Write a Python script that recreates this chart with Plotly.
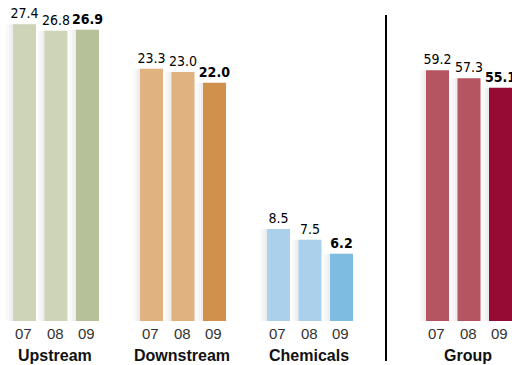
import plotly.graph_objects as go

segments = ["Upstream", "Downstream", "Chemicals", "Group"]
years = ["07", "08", "09"]
upstream = [27.4, 26.8, 26.9]
downstream = [23.3, 23.0, 22.0]
chemicals = [8.5, 7.5, 6.2]
group = [59.2, 57.3, 55.1]

values = [upstream, downstream, chemicals, group]
light = ["#CDD4B8", "#E0B27F", "#AAD0EC", "#B55561"]
dark = ["#B7C199", "#D0914D", "#7EBCE2", "#960B33"]

W, H = 512, 365
base_px = 321          # pixel row of bar bottoms
seg_scale = 10.83      # px per unit, segment axis
grp_scale = 4.235      # px per unit, group axis
group_left = [13, 140, 267, 426]
step = 31.5
bar_w = 23

fig = go.Figure()
for gi, (seg, vals) in enumerate(zip(segments, values)):
    xs = [group_left[gi] + bar_w / 2 + k * step for k in range(3)]
    yaxis = "y2" if seg == "Group" else "y"
    colors = [light[gi], light[gi], dark[gi]]
    texts = [f"{v:.1f}" if k < 2 else f"<b>{v:.1f}</b>" for k, v in enumerate(vals)]
    # soft shadow
    for off, a in [(-2, 0.025), (-4, 0.02), (-6, 0.015), (-8, 0.01)]:
        fig.add_trace(go.Bar(x=[x + off for x in xs], y=vals, width=bar_w, yaxis=yaxis,
                             marker=dict(color=f"rgba(0,0,0,{a})", line=dict(width=0)),
                             hoverinfo="skip", showlegend=False))
    fig.add_trace(go.Bar(
        x=xs, y=vals, width=bar_w, yaxis=yaxis,
        marker=dict(color=colors, line=dict(width=0)),
        text=texts, textposition="outside", constraintext="none", cliponaxis=False,
        textfont=dict(family="DejaVu Sans Condensed, Liberation Sans", size=14, color="#000000"),
        showlegend=False, name=seg))
    for k, yr in enumerate(years):
        fig.add_annotation(x=xs[k] - 1, y=1 - 333.5 / H, xref="x", yref="paper", text=yr,
                           showarrow=False, xanchor="center", yanchor="middle",
                           font=dict(family="Liberation Sans, Arial", size=15, color="#333333"))
    fig.add_annotation(x=(xs[0] + xs[2]) / 2 - 1, y=1 - 355 / H, xref="x", yref="paper",
                       text=f"<b>{seg}</b>", showarrow=False, xanchor="center", yanchor="middle",
                       font=dict(family="Liberation Sans, Arial", size=16, color="#111111"))

fig.add_shape(type="line", xref="x", yref="paper", x0=386, x1=386,
              y0=1 - 15 / H, y1=1 - 361 / H, line=dict(color="#000000", width=2))

fig.update_layout(
    width=W, height=H, margin=dict(l=0, r=0, t=0, b=0),
    paper_bgcolor="white", plot_bgcolor="white", barmode="overlay",
    xaxis=dict(range=[0, W], visible=False, fixedrange=True),
    yaxis=dict(range=[-(H - base_px) / seg_scale, base_px / seg_scale], visible=False),
    yaxis2=dict(range=[-(H - base_px) / grp_scale, base_px / grp_scale], visible=False,
                overlaying="y"),
)
fig.write_html("out.html")
